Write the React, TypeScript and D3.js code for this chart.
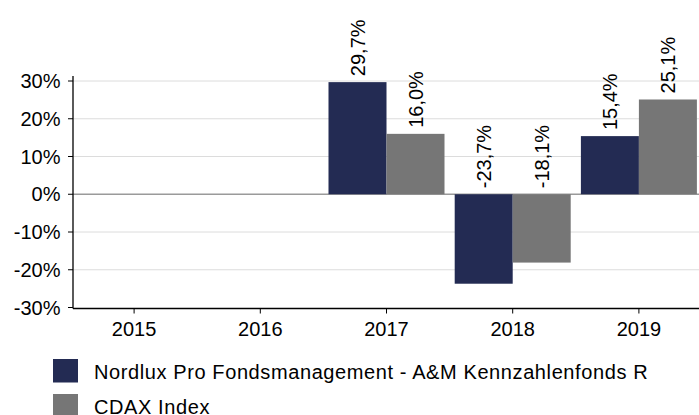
import React from "react";
import * as d3 from "d3";

const categories = ["2015", "2016", "2017", "2018", "2019"];
const seriesNames = ["Nordlux Pro Fondsmanagement - A&M Kennzahlenfonds R", "CDAX Index"];
const fundValues: (number | null)[] = [null, null, 29.7, -23.7, 15.4];
const indexValues: (number | null)[] = [null, null, 16.0, -18.1, 25.1];
const yTicks = [30, 20, 10, 0, -10, -20, -30];
const colors = ["#232B53", "#767676"];

const W = 699;
const H = 415;
const FONT = "'Liberation Sans', Arial, sans-serif";

export default function App() {
  const x = d3.scaleBand<string>().domain(categories).range([71, 702]).padding(0);
  const y = d3.scaleLinear().domain([-30, 30]).range([307.5, 81]);
  const inner = d3.scaleBand<number>().domain([0, 1]).range([0, 116]);
  const series = [fundValues, indexValues];
  const fmt = (v: number) => v.toFixed(1).replace(".", ",") + "%";
  const axisLeft = 73;
  const axisBottom = 308.5;

  return (
    <svg width={W} height={H} style={{ position: "absolute", left: 0, top: 0, fontFamily: FONT }}>
      <rect width={W} height={H} fill="#fff" />
      {yTicks.map((t) => (
        <g key={t}>
          {t !== -30 && (
            <line x1={axisLeft} x2={W} y1={y(t)} y2={y(t)} stroke={t === 0 ? "#9a9a9a" : "#dcdcdc"} strokeWidth={t === 0 ? 1.3 : 1} />
          )}
          <line x1={68} x2={axisLeft} y1={y(t)} y2={y(t)} stroke="#000" />
          <text x={60.5} y={y(t)} dy="0.36em" textAnchor="end" fontSize={20} fill="#000">
            {t}%
          </text>
        </g>
      ))}
      {series.map((vals, si) =>
        vals.map((v, ci) => {
          if (v === null) return null;
          const cx = (x(categories[ci]) as number) + x.bandwidth() / 2 - 58;
          const bx = cx + (inner(si) as number);
          const bw = inner.bandwidth();
          const y0 = y(0);
          const yv = y(v);
          const top = Math.min(y0, yv);
          const labelY = Math.min(y0, yv) - 6;
          return (
            <g key={`${si}-${ci}`}>
              <rect x={bx} y={top} width={bw} height={Math.abs(yv - y0)} fill={colors[si]} />
              <text
                transform={`translate(${bx + bw / 2},${labelY}) rotate(-90)`}
                dy="0.36em"
                fontSize={20}
                fill="#000"
              >
                {fmt(v)}
              </text>
            </g>
          );
        })
      )}
      <line x1={axisLeft} x2={axisLeft} y1={y(30) - 5} y2={axisBottom} stroke="#000" strokeWidth={1.3} />
      <line x1={axisLeft} x2={W} y1={axisBottom} y2={axisBottom} stroke="#000" strokeWidth={1.3} />
      {categories.map((c) => {
        const cx = (x(c) as number) + x.bandwidth() / 2;
        return (
          <g key={c}>
            <line x1={cx} x2={cx} y1={axisBottom} y2={axisBottom + 5} stroke="#000" />
            <text x={cx} y={336} textAnchor="middle" fontSize={20} fill="#000">
              {c}
            </text>
          </g>
        );
      })}
      {seriesNames.map((name, i) => (
        <g key={name}>
          <rect x={53} y={359 + i * 35} width={25} height={23.5} fill={colors[i]} />
          <text x={94} y={378.5 + i * 35} fontSize={20} letterSpacing={0.6} fill="#000">
            {name}
          </text>
        </g>
      ))}
    </svg>
  );
}
